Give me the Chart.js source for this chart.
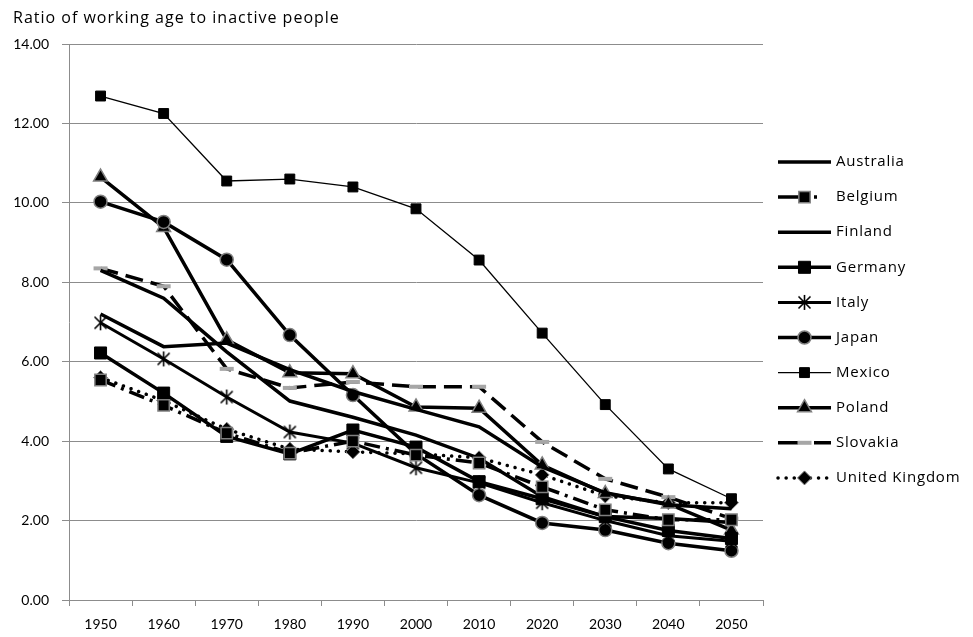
<!DOCTYPE html>
<html>
<head>
<meta charset="utf-8">
<script src="https://cdn.jsdelivr.net/npm/chart.js@4.4.1/dist/chart.umd.min.js"></script>
<style>
  html, body { margin: 0; padding: 0; background: #ffffff; }
  #wrap { width: 973px; height: 637px; position: relative; }
</style>
</head>
<body>
<div id="wrap"><canvas id="chart" width="973" height="637"></canvas></div>
<script>
// Ratio of working-age to inactive people, 1950-2050
const years = ['1950', '1960', '1970', '1980', '1990', '2000', '2010', '2020', '2030', '2040', '2050'];

const australia = [7.20, 6.38, 6.47, 5.80, 5.25, 4.80, 4.36, 3.35, 2.70, 2.40, 2.30];
const belgium   = [5.54, 4.90, 4.20, 3.70, 4.00, 3.65, 3.45, 2.85, 2.27, 2.02, 2.02];
const finland   = [8.30, 7.60, 6.25, 5.01, 4.60, 4.15, 3.57, 2.60, 2.10, 2.05, 1.95];
const germany   = [6.22, 5.21, 4.12, 3.68, 4.28, 3.85, 2.98, 2.55, 2.10, 1.75, 1.55];
const italy     = [6.98, 6.07, 5.11, 4.23, 3.95, 3.33, 2.95, 2.45, 2.00, 1.62, 1.48];
const japan     = [10.03, 9.52, 8.57, 6.67, 5.16, 3.68, 2.64, 1.94, 1.76, 1.43, 1.24];
const mexico    = [12.69, 12.25, 10.55, 10.60, 10.40, 9.85, 8.56, 6.72, 4.92, 3.30, 2.55];
const poland    = [10.65, 9.38, 6.55, 5.72, 5.70, 4.86, 4.83, 3.40, 2.68, 2.42, 1.76];
const slovakia  = [8.35, 7.90, 5.82, 5.34, 5.49, 5.37, 5.37, 3.98, 3.05, 2.59, 2.05];
const uk        = [5.60, 5.02, 4.30, 3.80, 3.73, 3.68, 3.58, 3.15, 2.62, 2.45, 2.45];

const yTicks = [0, 2, 4, 6, 8, 10, 12, 14];
const titleText = 'Ratio of working age to inactive people';

const FONT = 'Lato, "Open Sans", sans-serif';
const TEXT_FONT = '"Open Sans", Lato, sans-serif';
const GRID = '#8c8c8c';
const MARK_EDGE = '#7f7f7f';

// asterisk marker: an X crossed by a vertical stroke
function makeAsterisk(size, lw) {
  const c = document.createElement('canvas');
  c.width = size; c.height = size;
  const g = c.getContext('2d');
  g.strokeStyle = '#000';
  g.lineWidth = lw;
  const m = size / 2, r = size / 2 - 1;
  g.beginPath();
  g.moveTo(m - r * 0.8, m - r * 0.8); g.lineTo(m + r * 0.8, m + r * 0.8);
  g.moveTo(m + r * 0.8, m - r * 0.8); g.lineTo(m - r * 0.8, m + r * 0.8);
  g.moveTo(m, m - r); g.lineTo(m, m + r);
  g.stroke();
  return c;
}
const asterisk = makeAsterisk(17, 1.6);

function series(label, data, o) {
  return Object.assign({
    label: label,
    data: data,
    borderColor: '#000',
    backgroundColor: '#000',
    borderWidth: 3.5,
    borderDash: [],
    borderCapStyle: 'butt',
    borderJoinStyle: 'miter',
    pointStyle: 'circle',
    pointRadius: 0,
    pointBackgroundColor: '#000',
    pointBorderColor: '#000',
    pointBorderWidth: 1,
    tension: 0,
    fill: false
  }, o || {});
}

const datasets = [
  series('Australia', australia, { borderWidth: 3.5 }),
  series('Belgium', belgium, { borderDash: [16, 6, 3, 6], pointStyle: 'rect', pointRadius: 8, pointBorderColor: MARK_EDGE, pointBorderWidth: 1.5, legendDash: [22, 14, 3, 40] }),
  series('Finland', finland, { borderWidth: 3.5 }),
  series('Germany', germany, { pointStyle: 'rect', pointRadius: 8.5 }),
  series('Italy', italy, { borderWidth: 3, pointStyle: asterisk, pointRadius: 8 }),
  series('Japan', japan, { pointStyle: 'circle', pointRadius: 6.5, pointBorderColor: MARK_EDGE, pointBorderWidth: 1.5 }),
  series('Mexico', mexico, { borderWidth: 1.3, pointStyle: 'rect', pointRadius: 7 }),
  series('Poland', poland, { pointStyle: 'triangle', pointRadius: 8, pointBorderColor: MARK_EDGE, pointBorderWidth: 1.5 }),
  series('Slovakia', slovakia, { borderDash: [18, 8], pointStyle: 'line', pointRadius: 7, pointBorderColor: '#a6a6a6', pointBorderWidth: 4, legendDash: [20, 16, 18, 0] }),
  series('United Kingdom', uk, { borderWidth: 3.5, borderDash: [0.1, 8], borderCapStyle: 'round', pointStyle: 'rectRot', pointRadius: 7, pointBorderColor: MARK_EDGE, pointBorderWidth: 1 })
];

// draws one marker shape centred at (x, y)
function drawMarker(ctx, ds, x, y) {
  const style = ds.pointStyle, r = ds.pointRadius;
  if (!r) return;
  ctx.save();
  ctx.setLineDash([]);
  ctx.fillStyle = ds.pointBackgroundColor;
  ctx.strokeStyle = ds.pointBorderColor;
  ctx.lineWidth = ds.pointBorderWidth;
  if (style instanceof HTMLCanvasElement) {
    ctx.drawImage(style, x - style.width / 2, y - style.height / 2);
    ctx.restore();
    return;
  }
  ctx.beginPath();
  if (style === 'rect') {
    const s = Math.SQRT1_2 * r;
    ctx.rect(x - s, y - s, 2 * s, 2 * s);
    ctx.fill(); ctx.stroke();
  } else if (style === 'circle') {
    ctx.arc(x, y, r, 0, Math.PI * 2);
    ctx.fill(); ctx.stroke();
  } else if (style === 'triangle') {
    for (let k = 0; k < 3; k++) {
      const ang = -Math.PI / 2 + k * 2 * Math.PI / 3;
      const px = x + Math.cos(ang) * r, py = y + Math.sin(ang) * r;
      if (k === 0) ctx.moveTo(px, py); else ctx.lineTo(px, py);
    }
    ctx.closePath();
    ctx.fill(); ctx.stroke();
  } else if (style === 'rectRot') {
    ctx.moveTo(x, y - r); ctx.lineTo(x + r, y); ctx.lineTo(x, y + r); ctx.lineTo(x - r, y);
    ctx.closePath();
    ctx.fill(); ctx.stroke();
  } else if (style === 'line') {
    ctx.moveTo(x - r, y); ctx.lineTo(x + r, y);
    ctx.stroke();
  }
  ctx.restore();
}

// legend on the right: line sample with its marker, then the name
const legendPlugin = {
  id: 'sideLegend',
  afterDraw(chart) {
    const ctx = chart.ctx;
    const x0 = 778, x1 = 831, xm = (x0 + x1) / 2, textX = 836;
    const y0 = 162, step = 35.1;
    chart.data.datasets.forEach((ds, i) => {
      const y = y0 + i * step;
      ctx.save();
      ctx.strokeStyle = ds.borderColor;
      ctx.lineWidth = ds.borderWidth;
      ctx.lineCap = ds.borderCapStyle;
      ctx.setLineDash(ds.legendDash || ds.borderDash || []);
      ctx.beginPath();
      ctx.moveTo(x0, y); ctx.lineTo(x1, y);
      ctx.stroke();
      ctx.restore();
      drawMarker(ctx, ds, xm, y);
      ctx.save();
      ctx.fillStyle = '#000';
      ctx.font = '15px ' + TEXT_FONT;
      ctx.letterSpacing = '0.8px';
      ctx.textBaseline = 'middle';
      ctx.textAlign = 'left';
      ctx.fillText(ds.label, textX, y);
      ctx.restore();
    });
    // chart heading
    ctx.save();
    ctx.fillStyle = '#000';
    ctx.font = '16px ' + TEXT_FONT;
    ctx.letterSpacing = '1px';
    ctx.textBaseline = 'middle';
    ctx.textAlign = 'left';
    ctx.fillText(titleText, 13, 18);
    ctx.restore();
  }
};

new Chart(document.getElementById('chart'), {
  type: 'line',
  data: { labels: years, datasets: datasets },
  plugins: [legendPlugin],
  options: {
    responsive: false,
    devicePixelRatio: 1,
    animation: false,
    events: [],
    layout: { padding: { left: 0, right: 210, top: 44, bottom: 0 } },
    plugins: { legend: { display: false }, title: { display: false }, tooltip: { enabled: false } },
    scales: {
      x: {
        offset: true,
        grid: { offset: true, drawOnChartArea: false, drawTicks: true, tickLength: 6, color: GRID, lineWidth: 1 },
        border: { display: true, color: GRID, width: 1 },
        ticks: { color: '#000', font: { family: FONT, size: 14 }, padding: 10, maxRotation: 0, autoSkip: false },
        afterFit(scale) { scale.height = 37; }
      },
      y: {
        min: 0,
        max: 14,
        afterBuildTicks(scale) { scale.ticks = yTicks.map(v => ({ value: v })); },
        grid: { color: GRID, lineWidth: 1, drawTicks: true, tickLength: 7 },
        border: { display: true, color: GRID, width: 1 },
        ticks: { color: '#000', font: { family: FONT, size: 14 }, padding: 13, callback: v => Number(v).toFixed(2) },
        afterFit(scale) { scale.width = 69; }
      }
    }
  }
});
</script>
</body>
</html>
